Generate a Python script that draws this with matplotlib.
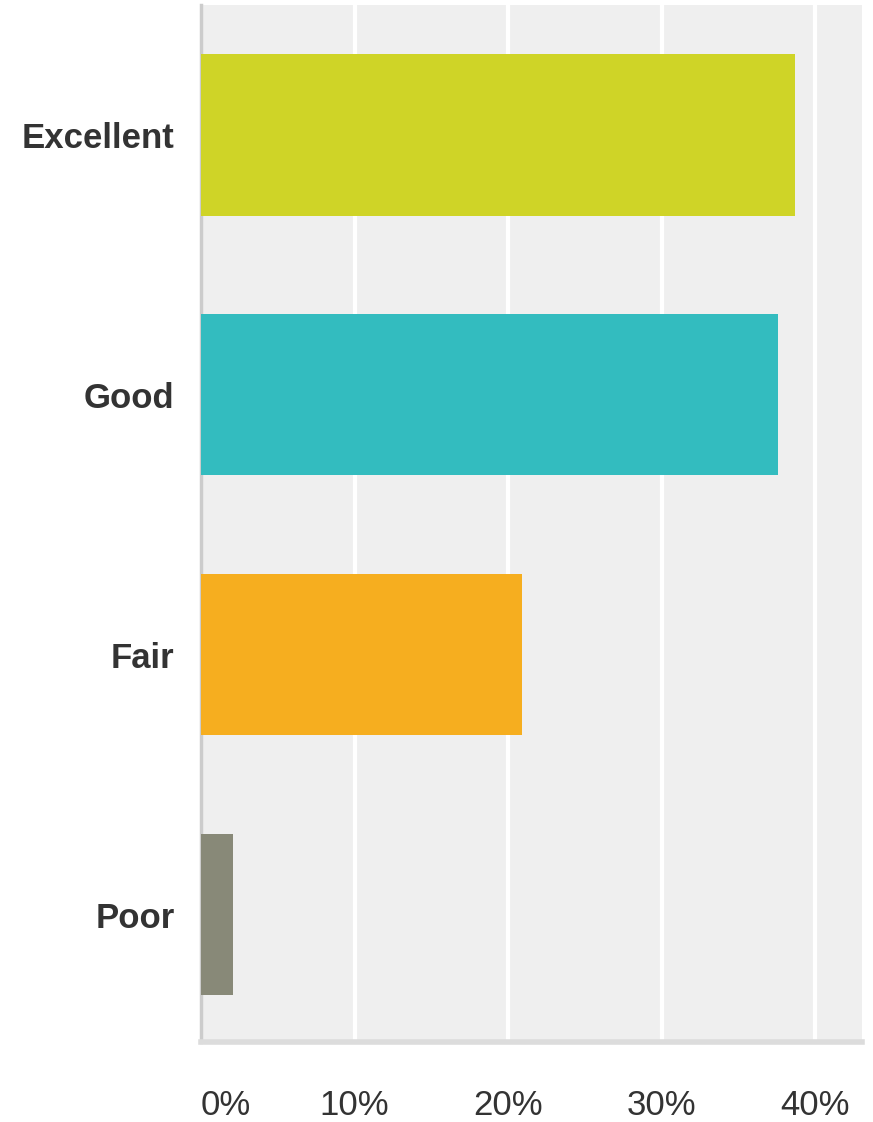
import matplotlib.pyplot as plt

categories = ['Excellent', 'Good', 'Fair', 'Poor']
percents = [38.7, 37.6, 20.9, 2.1]
colors = ['#cfd427', '#33bcbf', '#f6ae1f', '#888978']
ticks = [0, 10, 20, 30, 40]
tick_labels = ['0%', '10%', '20%', '30%', '40%']

plt.rcParams['font.family'] = ['Liberation Sans', 'DejaVu Sans']

fig = plt.figure(figsize=(8.73, 11.22), dpi=100)
ax = fig.add_axes([201/873, 1 - 1042/1122, (862 - 201)/873, (1042 - 5)/1122])
ax.set_facecolor('#efefef')

ypos = list(range(len(categories)))
ax.barh(ypos, percents, height=0.62, color=colors, zorder=3)

ax.set_xlim(0, 43.05)
ax.set_ylim(3.49, -0.5)

# white vertical grid
ax.set_xticks(ticks)
ax.grid(axis='x', color='white', linewidth=3, zorder=1)
ax.set_xticklabels(tick_labels, fontsize=25, color='#333333')
ax.get_xticklabels()[0].set_horizontalalignment('left')
ax.tick_params(axis='x', length=0, pad=34)

ax.set_yticks(ypos)
ax.set_yticklabels(categories, fontsize=25, fontweight='bold', color='#333333')
ax.tick_params(axis='y', length=0, pad=19)

for s in ['top', 'right']:
    ax.spines[s].set_visible(False)
ax.spines['left'].set_color('#cccccc')
ax.spines['left'].set_linewidth(2.5)
ax.spines['bottom'].set_color('#dcdcdc')
ax.spines['bottom'].set_linewidth(4)

plt.savefig('out.png', dpi=100)
